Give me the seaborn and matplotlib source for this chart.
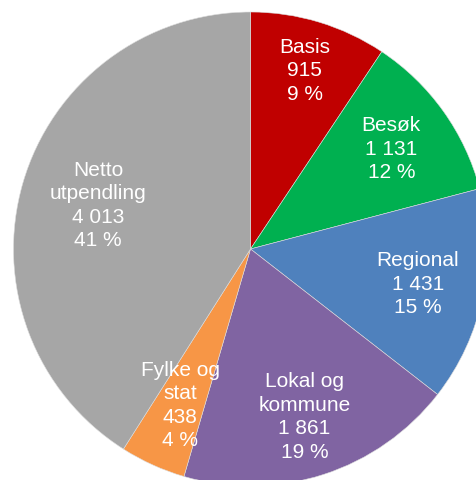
import matplotlib
matplotlib.use("Agg")
import matplotlib.pyplot as plt
import seaborn as sns
import numpy as np

categories = ["Basis", "Besøk", "Regional", "Lokal og\nkommune", "Fylke og\nstat", "Netto\nutpendling"]
values = [915, 1131, 1431, 1861, 438, 4013]
colors = ["#C00000", "#00B050", "#4F81BD", "#8064A2", "#F79646", "#A6A6A6"]
label_dist = [0.79, 0.73, 0.72, 0.74, 0.72, 0.67]

sns.set_theme(style="white")
plt.rcParams['font.family'] = ['Liberation Sans', 'DejaVu Sans']

fig = plt.figure(figsize=(4.77, 4.81), dpi=100)
ax = fig.add_axes([0, 0, 1, 1])

R = 237
cx, cy = 250.5, 481 - 250
palette = sns.color_palette(colors)
wedges, _ = ax.pie(values, colors=palette, startangle=90, counterclock=False,
                   radius=R, center=(cx, cy), frame=True,
                   wedgeprops=dict(edgecolor="#dddddd", linewidth=0.4))
ax.set_xlim(0, 477)
ax.set_ylim(0, 481)
ax.set_aspect("equal")
ax.axis("off")

total = sum(values)
for w, cat, v, d in zip(wedges, categories, values, label_dist):
    ang = np.deg2rad((w.theta1 + w.theta2) / 2)
    x = cx + R * d * np.cos(ang)
    y = cy + R * d * np.sin(ang)
    num = f"{v:,}".replace(",", " ")
    pct = f"{round(v / total * 100):d} %"
    ax.text(x, y, f"{cat}\n{num}\n{pct}", ha="center", va="center",
            color="white", fontsize=15, linespacing=1.3)

fig.savefig("out.png", dpi=100)
